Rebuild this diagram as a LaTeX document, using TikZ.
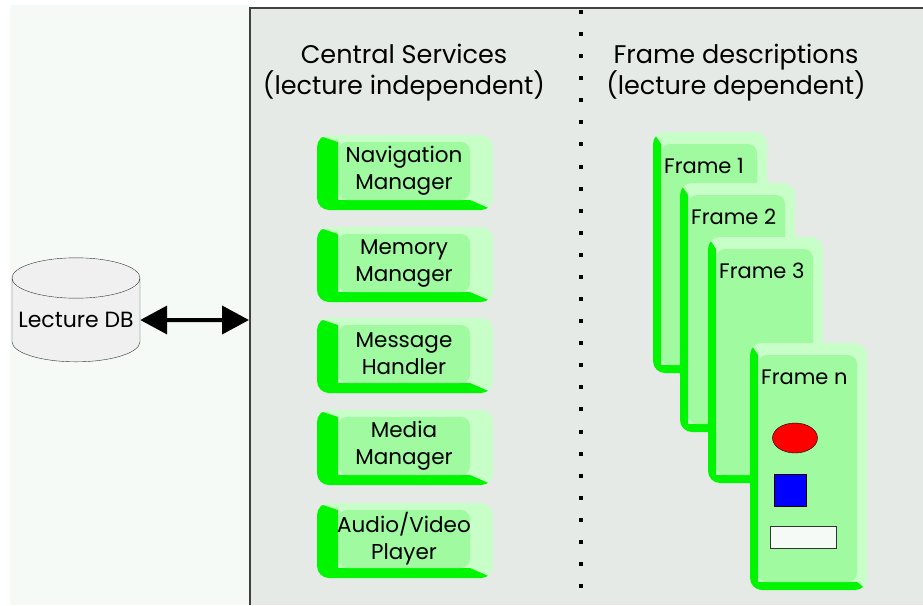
\documentclass[tikz,border=0pt]{standalone}
\usepackage{fontspec}
\setmainfont{Poppins}
\usepackage{tikz}
\usetikzlibrary{
    arrows.meta,
    shapes.geometric,
    positioning
}
\definecolor{leftbg}{RGB}{246,250,247}
\definecolor{panelbg}{RGB}{230,234,231}
\definecolor{litegreen}{RGB}{200,255,200}
\definecolor{facegreen}{RGB}{160,250,160}
\definecolor{bevelgreen}{RGB}{0,245,0}
\tikzset{svcface/.style={inner sep=0pt, align=center, font=\fontsize{21.5}{27}\selectfont}}
\tikzset{framelabel/.style={inner sep=0pt, anchor=base west, font=\fontsize{21}{24}\selectfont}}
\tikzset{title/.style={align=center, inner sep=0pt, font=\fontsize{25.5}{31}\selectfont}}
\tikzset{dbarrow/.style={line width=4pt, {Triangle[length=27pt,width=28pt]}-{Triangle[length=27pt,width=28pt]}}}
% outer box x1 y1 x2 y2, then band widths left top right bottom
\newcommand{\bevelbox}[8]{%
    \fill[litegreen, rounded corners=12pt] (#1,#2) rectangle (#3,#4);
    \begin{scope}
        \clip[rounded corners=12pt] (#1,#2) rectangle (#3,#4);
        \fill[bevelgreen] (#1,#2) -- ({#1+#5},{#2+#6}) -- ({#1+#5},{#4-#8})
        -- ({#3-#7},{#4-#8}) -- (#3,#4) -- (#1,#4) -- cycle;
    \end{scope}
    \fill[facegreen, rounded corners=9pt] ({#1+#5},{#2+#6}) rectangle ({#3-#7},{#4-#8});
}
\begin{document}
\begin{tikzpicture}[x=1pt, y=-1pt]
                        \useasboundingbox (0,0) rectangle (923,605);
                        \fill[leftbg] (10,5) rectangle (250,605);
                        \fill[panelbg] (250,8) rectangle (923,605);
                        \draw[line width=2pt, black!75] (250,605) -- (250,8) -- (923,8);
                        \draw[line width=4pt, dash pattern=on 4pt off 18.08pt] (581,10) -- (581,600);
                        % titles
                        \node[title] (cs) at (404,73) {Central Services\\(lecture independent)};
                        \node[title] (fd) at (736,73) {Frame descriptions\\(lecture dependent)};
                        % database
                        \node[cylinder, shape border rotate=90, draw=black!80, fill=black!6,
                        minimum width=128pt, minimum height=104pt, aspect=0.35, inner sep=0pt,
                        font=\fontsize{22}{24}\selectfont] (db) at (76,320) {Lecture DB};
                        \coordinate (pw) at (249,320);
                        \draw[dbarrow] (db.east) -- (pw);
                        % services
                        \foreach \cy/\nm/\txt in {171/nav/{Navigation\\Manager},
                        263/mem/{Memory\\Manager}, 354/msg/{Message\\Handler},
                        446/med/{Media\\Manager}, 539/avp/{Audio/Video\\Player}} {
                            \bevelbox{317}{\cy-36}{493}{\cy+39}{21}{7}{23}{10}
                            \node[svcface] (\nm) at (404,\cy) {\txt};
                        }
                        % frames
                        \foreach \fx/\fy/\fr/\fb/\nm/\lab in {653/132/767/373/f1/1,
                        680/183/795/432/f2/2, 708/237/823/483/f3/3, 750/343/867/590/fn/n} {
                            \bevelbox{\fx}{\fy}{\fr}{\fb}{8}{12}{10}{8}
                            \node[framelabel] (\nm) at (\fx+11,\fy+41) {Frame \lab};
                        }
                        \node[ellipse, draw=black, fill=red, minimum width=45pt, minimum height=30pt] (oval) at (795,438) {};
                        \node[draw=black, fill=blue, minimum size=32pt, inner sep=0pt] (sq) at (790,490) {};
                        \node[draw=black!80, fill=leftbg, minimum width=66pt, minimum height=22pt, inner sep=0pt] (bar) at (803,537) {};
                    \end{tikzpicture}
\end{document}
